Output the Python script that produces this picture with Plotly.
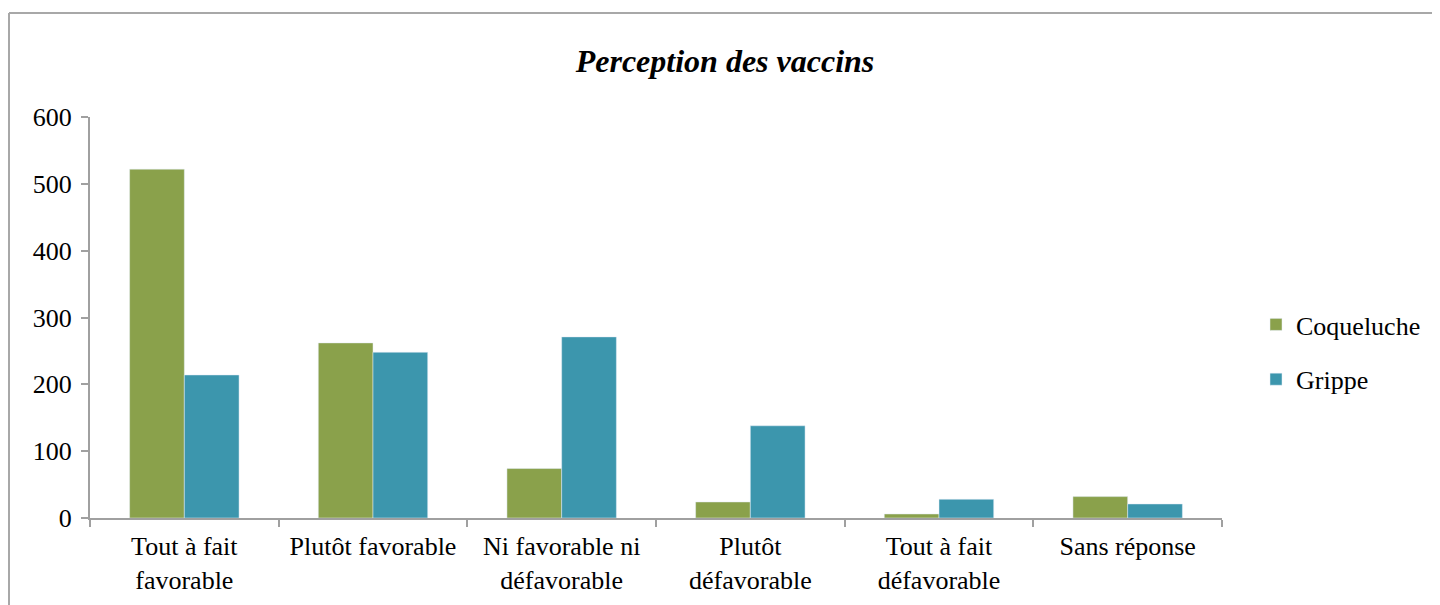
import plotly.graph_objects as go

categories = ["Tout à fait<br>favorable", "Plutôt favorable", "Ni favorable ni<br>défavorable",
              "Plutôt<br>défavorable", "Tout à fait<br>défavorable", "Sans réponse"]
coqueluche = [522, 262, 74, 24, 6, 32]
grippe = [214, 248, 271, 138, 28, 21]
y_ticks = [0, 100, 200, 300, 400, 500, 600]

# the page body adds an 8px margin; work in reference pixel coords shifted by it
OFF = 8
W, H = 1440 - OFF, 605 - OFF
L, R, T, B = 90 - OFF, 1222 - OFF, 117 - OFF, 518 - OFF
pw, ph = R - L, B - T

def px_x(x):
    return (x - OFF - L) / pw

def px_y(y):
    return (B - (y - OFF)) / ph

font_family = "Times New Roman, Liberation Serif, Tinos, DejaVu Serif, serif"

fig = go.Figure()
fig.add_trace(go.Bar(name="Coqueluche", x=categories, y=coqueluche, marker_color="#8aa14b",
                     legendgroup="a"))
fig.add_trace(go.Bar(name="Grippe", x=categories, y=grippe, marker_color="#3c96ad",
                     legendgroup="b"))

fig.update_layout(
    width=W, height=H,
    margin=dict(l=L, r=W - R, t=T, b=H - B, autoexpand=False),
    paper_bgcolor="white", plot_bgcolor="white",
    barmode="group", bargap=0.42, bargroupgap=0,
    font=dict(family=font_family, size=26, color="black"),
    title=dict(text="<b><i>Perception des vaccins</i></b>", x=(725 - OFF) / W, xref="container",
               xanchor="center", y=1 - (61 - OFF) / H, yanchor="middle",
               font=dict(size=32, family=font_family)),
    legend=dict(x=px_x(1256), xanchor="left", y=px_y(352), yanchor="middle",
                font=dict(size=26, family=font_family), tracegroupgap=18, itemwidth=30,
                bgcolor="rgba(0,0,0,0)"),
    showlegend=True,
)
fig.update_xaxes(showline=True, linecolor="#a0a0a0", linewidth=2, ticks="outside",
                 tickson="boundaries", ticklen=7, tickcolor="#a0a0a0", tickwidth=2,
                 showgrid=False, tickfont=dict(size=26, family=font_family), ticklabelstandoff=4)
fig.update_yaxes(range=[0, 600], tickvals=y_ticks, showline=True, linecolor="#a0a0a0",
                 linewidth=2, ticks="outside", ticklen=7, tickcolor="#a0a0a0", tickwidth=2,
                 showgrid=False, zeroline=False, tickfont=dict(size=26, family=font_family),
                 ticklabelstandoff=4)

# outer chart frame (top and left edges)
fig.add_shape(type="line", xref="paper", yref="paper", x0=px_x(9), x1=px_x(1445),
              y0=px_y(13), y1=px_y(13), line=dict(color="#a8a8a8", width=2))
fig.add_shape(type="line", xref="paper", yref="paper", x0=px_x(9), x1=px_x(9),
              y0=px_y(13), y1=px_y(610), line=dict(color="#a8a8a8", width=2))

fig.write_html("out.html")
